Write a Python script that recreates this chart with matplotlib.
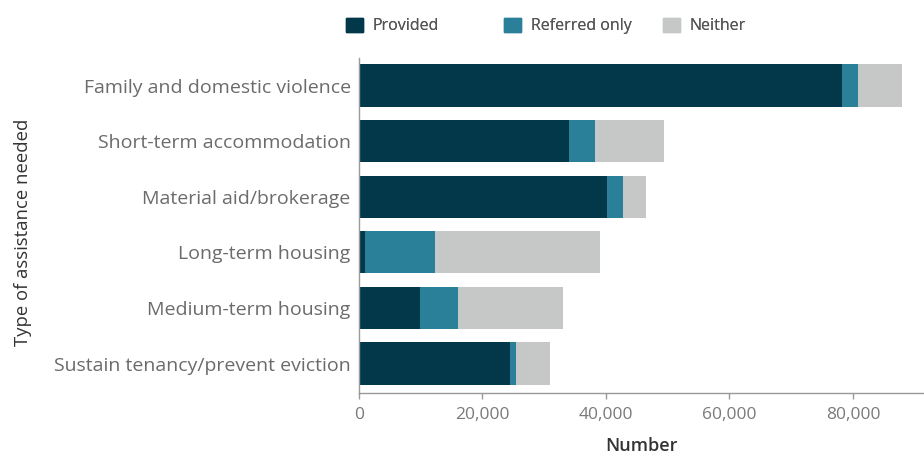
import matplotlib.pyplot as plt
from matplotlib.patches import Patch
from matplotlib.ticker import FuncFormatter

# categories, top to bottom
categories = ['Family and domestic violence', 'Short-term accommodation',
              'Material aid/brokerage', 'Long-term housing',
              'Medium-term housing', 'Sustain tenancy/prevent eviction']
provided = [78300, 34000, 40200, 1000, 9900, 24500]
referred = [2500, 4200, 2600, 11300, 6200, 1000]
neither = [7200, 11200, 3700, 26800, 16900, 5400]
series_names = ['Provided', 'Referred only', 'Neither']
colors = ['#03384a', '#2a7f99', '#c6c7c7']
x_ticks = [0, 20000, 40000, 60000, 80000]

plt.rcParams['font.family'] = ['Open Sans', 'DejaVu Sans']

W, H = 924, 457
fig = plt.figure(figsize=(W / 100, H / 100), dpi=100)
ax = fig.add_axes([359 / W, 1 - 393 / H, (W - 359) / W, (393 - 58) / H])

ypos = list(range(len(categories)))
left = [0] * len(categories)
for vals, name, c in zip([provided, referred, neither], series_names, colors):
    ax.barh(ypos, vals, left=left, height=0.76, color=c, label=name)
    left = [l + v for l, v in zip(left, vals)]

ax.set_ylim(5.53, -0.495)
ax.set_xlim(0, 91500)
ax.set_yticks(ypos)
ax.set_yticklabels(categories, fontsize=14, color='#6b6b6b')
ax.set_xticks(x_ticks)
ax.xaxis.set_major_formatter(FuncFormatter(lambda v, p: f'{int(v):,}'))
ax.tick_params(axis='x', labelsize=12.5, labelcolor='#7a7a7a', color='#999999',
               length=4, width=1, pad=6)
ax.tick_params(axis='y', length=0, pad=6)

for s in ['top', 'right']:
    ax.spines[s].set_visible(False)
for s in ['left', 'bottom']:
    ax.spines[s].set_color('#999999')
    ax.spines[s].set_linewidth(1)

ax.set_xlabel('Number', fontsize=13, color='#333333', fontweight='semibold', labelpad=10)
fig.text(23 / W, 1 - 232 / H, 'Type of assistance needed', rotation=90,
         ha='center', va='center', fontsize=13.3, color='#333333')

# legend entries sit at fixed column positions, one legend per entry
legend_x = [332, 490, 649]
for c, n, lx in zip(colors, series_names, legend_x):
    leg = fig.legend(handles=[Patch(color=c, label=n)], loc='center left',
                     bbox_to_anchor=(lx / W, 1 - 26 / H), frameon=False,
                     fontsize=11.5, handlelength=1.05, handleheight=1.05,
                     handletextpad=0.6, labelcolor='#555555')
    fig.add_artist(leg)

fig.savefig('out.png', dpi=100)
